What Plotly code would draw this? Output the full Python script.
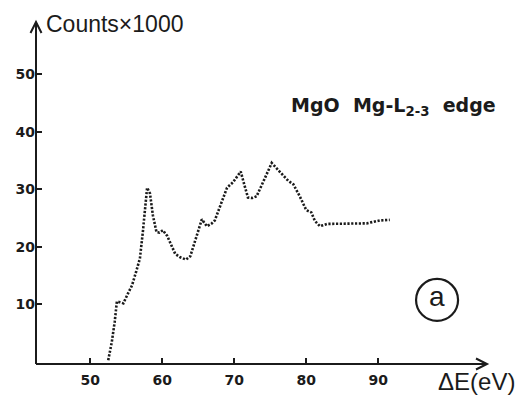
import plotly.graph_objects as go

# MgO Mg-L2,3 edge energy-loss spectrum (counts in thousands)
energy_ev = [52.5, 53.0, 53.4, 53.7, 54.1, 54.6, 55.2, 55.8, 56.4, 56.9,
             57.3, 57.6, 57.9, 58.3, 58.7, 59.2, 59.6, 60.1, 60.7, 61.3,
             61.8, 62.5, 63.3, 63.9, 64.7, 65.5, 66.2, 66.8, 67.3, 68.0,
             69.0, 69.8, 70.3, 70.9, 71.4, 71.9, 72.5, 73.1, 74.2, 75.2,
             76.3, 77.5, 78.2, 79.1, 80.0, 80.7, 81.2, 81.9, 82.9, 84.5,
             86.5, 88.4, 90.2, 91.6]
counts_k = [0.3, 3.5, 7.0, 10.5, 10.4, 10.2, 11.8, 13.3, 15.8, 18.0,
            22.5, 26.5, 30.3, 29.3, 25.5, 22.6, 22.5, 22.9, 21.9, 20.2,
            18.8, 18.2, 17.8, 18.4, 21.5, 24.8, 23.6, 24.0, 24.6, 26.9,
            30.3, 31.2, 32.0, 33.1, 30.8, 28.6, 28.5, 28.8, 31.8, 34.6,
            33.1, 31.5, 30.9, 28.8, 26.4, 26.0, 24.5, 23.6, 24.0, 24.0,
            24.0, 24.1, 24.6, 24.7]

x_ticks = [50, 60, 70, 80, 90]
y_ticks = [10, 20, 30, 40, 50]

X_RANGE = [42.47, 105.1]
Y_RANGE = [-0.35, 59.1]
INK = "#1b1b1b"

fig = go.Figure()
fig.add_trace(go.Scatter(
    x=energy_ev, y=counts_k, mode="lines",
    line=dict(color=INK, width=2.6, dash="2.2px,1.6px"),
    hoverinfo="skip", showlegend=False,
))

axis_common = dict(
    showgrid=False, zeroline=False, showline=False,
    ticks="inside", ticklen=6, tickwidth=1.5, tickcolor=INK,
    tickfont=dict(family="DejaVu Sans", size=14, color=INK, weight="bold"),
    fixedrange=True,
)
fig.update_xaxes(range=X_RANGE, tickvals=x_ticks, ticklabelstandoff=6, **axis_common)
fig.update_yaxes(range=Y_RANGE, tickvals=y_ticks, **axis_common)

# Axis lines with open chevron arrowheads (paper coords so nothing is clipped)
line_style = dict(color=INK, width=2)
fig.add_shape(type="line", xref="paper", yref="paper",
              x0=0, y0=0, x1=1, y1=0, line=line_style)
fig.add_shape(type="line", xref="paper", yref="paper",
              x0=0, y0=0, x1=0, y1=1, line=line_style)
fig.add_shape(type="path", xref="paper", yref="paper", xsizemode="pixel", ysizemode="pixel",
              xanchor=1, yanchor=0,
              path="M -11 -5.5 L 0 0 L -11 5.5", line=line_style)
fig.add_shape(type="path", xref="paper", yref="paper", xsizemode="pixel", ysizemode="pixel",
              xanchor=0, yanchor=1,
              path="M -5.5 -11 L 0 0 L 5.5 -11", line=line_style)

fig.add_annotation(
    text="Counts\u00d71000", xref="paper", yref="paper",
    x=8 / 451, y=(364 - 24) / 342, xanchor="left", yanchor="middle",
    showarrow=False,
    font=dict(family="Liberation Sans", size=23, color=INK),
)
fig.add_annotation(
    text="\u0394E(eV)", xref="paper", yref="paper",
    x=(436 - 36) / 451, y=(364 - 381) / 342, xanchor="left", yanchor="middle",
    showarrow=False,
    font=dict(family="Liberation Sans", size=24, color=INK),
)
fig.add_annotation(
    text="MgO  Mg-L<sub>2-3</sub>  edge", xref="paper", yref="paper",
    x=(393 - 36) / 451, y=(364 - 106) / 342, xanchor="center", yanchor="middle",
    showarrow=False,
    font=dict(family="DejaVu Sans", size=19, color=INK, weight="bold"),
)

# Panel label (a)
cx = X_RANGE[0] + (437 - 36) / 7.2
cy = (362 - 300) / 5.75
fig.add_shape(type="circle", xref="x", yref="y", xsizemode="pixel", ysizemode="pixel",
              xanchor=cx, yanchor=cy, x0=-21, x1=21, y0=-21, y1=21,
              line=dict(color=INK, width=2.2))
fig.add_annotation(
    text="a", x=cx, y=cy, xref="x", yref="y", showarrow=False,
    xanchor="center", yanchor="middle", yshift=3,
    font=dict(family="Liberation Sans", size=28, color=INK),
)

fig.update_layout(
    width=520, height=399,
    margin=dict(l=36, r=33, t=22, b=35),
    paper_bgcolor="white", plot_bgcolor="white",
)
fig.write_html("out.html")
